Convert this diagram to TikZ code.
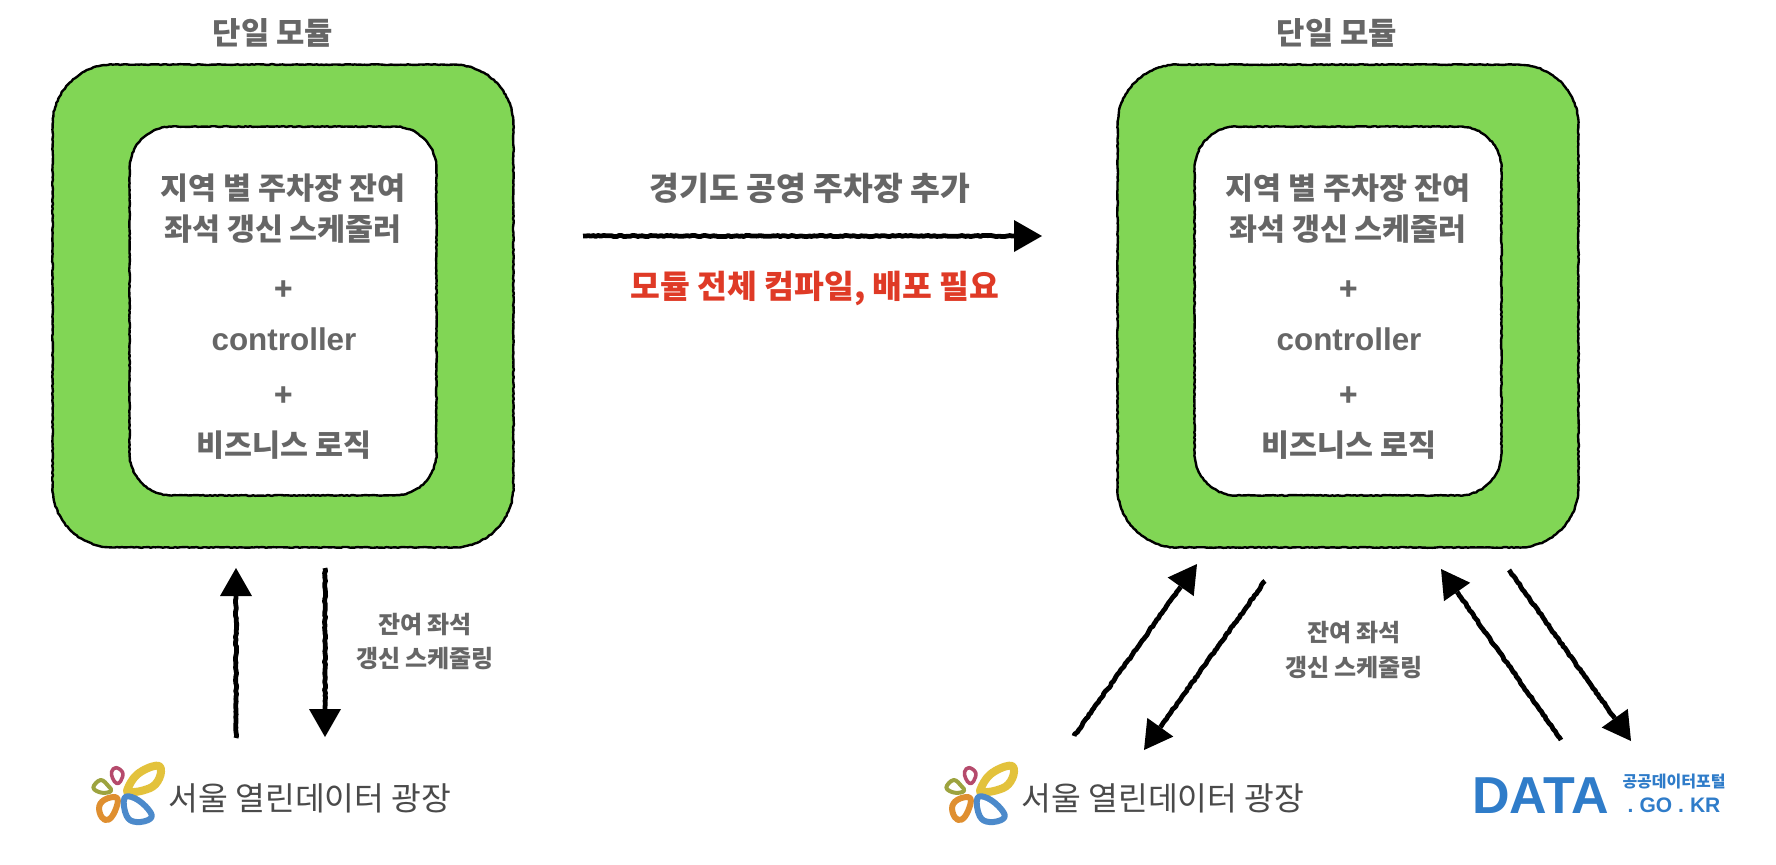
\documentclass[tikz,border=0pt]{standalone}
\usepackage{fontspec}
\setmainfont{Noto Sans CJK KR}
\newfontfamily\latinf{Liberation Sans}
\usetikzlibrary{arrows.meta,decorations.pathmorphing}
\definecolor{modgreen}{HTML}{81D655}
\definecolor{txtgrey}{HTML}{666666}
\definecolor{alertred}{HTML}{DF3A26}
\definecolor{logotxt}{HTML}{4A4A4A}
\definecolor{datablue}{HTML}{2F7CC9}
\definecolor{lyellow}{HTML}{E3C23C}
\definecolor{lpink}{HTML}{B54A6C}
\definecolor{lolive}{HTML}{9DA33F}
\definecolor{lorange}{HTML}{DF8F30}
\definecolor{lblue}{HTML}{4C8ACB}
\pgfmathsetseed{7}
\tikzset{
  roughedge/.style={draw=black,line width=1.2pt,line join=round,line cap=round},
  boxrough/.style={decoration={random steps,segment length=1.2pt,amplitude=.22pt}},
  roughline/.style={decorate,decoration={random steps,segment length=1.3pt,amplitude=.32pt,post length=15pt}},
  outerbox/.style={rectangle,fill=modgreen,rounded corners=30pt,
    minimum width=230pt,minimum height=241pt,inner sep=0pt},
  innerbox/.style={rectangle,fill=white,rounded corners=21pt,
    minimum width=153pt,minimum height=184pt,inner sep=0pt},
  head/.style={font=\fontsize{15.4}{17}\selectfont\bfseries,text=txtgrey,inner sep=0pt},
  body/.style={font=\fontsize{15.2}{17}\selectfont\bfseries,text=txtgrey,inner sep=0pt},
  midbody/.style={font=\fontsize{16.2}{18}\selectfont\bfseries,text=txtgrey,inner sep=0pt},
  latinbody/.style={font=\fontsize{15.7}{17}\selectfont\latinf\bfseries,text=txtgrey,inner sep=0pt},
  small/.style={font=\fontsize{12}{14}\selectfont\bfseries,text=txtgrey,inner sep=0pt},
  alert/.style={font=\fontsize{16.2}{18}\selectfont\bfseries,text=alertred,inner sep=0pt},
  logotext/.style={font=\fontsize{16.2}{18}\selectfont,text=logotxt,inner sep=0pt},
  bigarrow/.style={line width=2.4pt,draw=black,line join=round,roughline,
    -{Triangle[length=14pt,width=16pt,line width=0pt]}},
  petal/.style={fill=none,line join=round},
  pics/seoullogo/.style={code={
    \begin{scope}[x=.1667pt,y=-.1667pt]
      \draw[petal,lyellow,line width=4pt] plot[smooth cycle,tension=.7] coordinates {(142,146) (172,100) (228,74) (243,92) (226,130) (190,148) (152,153)};
      \draw[petal,lpink,line width=1.8pt] plot[smooth cycle,tension=.7] coordinates {(95,92) (108,80) (128,95) (122,120) (110,127) (98,112)};
      \draw[petal,lolive,line width=2pt] plot[smooth cycle,tension=.7] coordinates {(40,140) (62,117) (85,135) (93,150) (65,155)};
      \draw[petal,lorange,line width=3pt] plot[smooth cycle,tension=.7] coordinates {(58,195) (80,173) (112,172) (105,210) (85,236) (65,228)};
      \draw[petal,lblue,line width=3pt] plot[smooth cycle,tension=.7] coordinates {(133,172) (165,172) (205,205) (212,232) (170,243) (140,225)};
    \end{scope}
  }}
}
\newcommand{\edgeof}[2]{\draw[roughedge,boxrough] decorate {[rounded corners=#2] (#1.north west) rectangle (#1.south east)};}
\begin{document}
\begin{tikzpicture}[x=.5pt,y=-.5pt]
\useasboundingbox[fill=white] (0,0) rectangle (1776,864);

% left module
\node[outerbox] (outerL) at (283,306) {};
\edgeof{outerL}{30pt}
\node[innerbox] (innerL) at (283,311) {};
\edgeof{innerL}{21pt}
\node[head] (titleL) at (273,33) {단일 모듈};
\node[body] (l1L) at (283,188) {지역 별 주차장 잔여};
\node[body] (l2L) at (283,229) {좌석 갱신 스케줄러};
\node[body] (p1L) at (284,291) {+};
\node[latinbody] (cL) at (284,339) {controller};
\node[body] (p2L) at (284,397) {+};
\node[body] (l3L) at (284,445) {비즈니스 로직};

% right module
\node[outerbox] (outerR) at (1348,306) {};
\edgeof{outerR}{30pt}
\node[innerbox] (innerR) at (1348,311) {};
\edgeof{innerR}{21pt}
\node[head] (titleR) at (1337,33) {단일 모듈};
\node[body] (l1R) at (1348,188) {지역 별 주차장 잔여};
\node[body] (l2R) at (1348,229) {좌석 갱신 스케줄러};
\node[body] (p1R) at (1349,291) {+};
\node[latinbody] (cR) at (1349,339) {controller};
\node[body] (p2R) at (1349,397) {+};
\node[body] (l3R) at (1349,445) {비즈니스 로직};

% middle
\node[midbody] (midtop) at (810,188) {경기도 공영 주차장 추가};
\node[alert] (midred) at (815,288) {모듈 전체 컴파일, 배포 필요};
\coordinate (ms) at (583,236);
\coordinate (me) at (1042,236);
\draw[bigarrow] (ms) -- (me);

% small labels
\node[small] (s1L) at (425,625) {잔여 좌석};
\node[small] (s2L) at (425,659) {갱신 스케줄링};
\node[small] (s1R) at (1354,633) {잔여 좌석};
\node[small] (s2R) at (1354,668) {갱신 스케줄링};

% logos
\pic (logoL) at (80,741) {seoullogo};
\node[logotext] (seoulL) at (310,798) {서울 열린데이터 광장};
\pic (logoR) at (933,741) {seoullogo};
\node[logotext] (seoulR) at (1163,798) {서울 열린데이터 광장};

\node[font=\fontsize{26}{28}\selectfont\latinf\bfseries,text=datablue,inner sep=0pt,anchor=west] (dataw) at (1472,796) {DATA};
\node[font=\fontsize{8}{9}\selectfont\bfseries,text=datablue,inner sep=0pt] (datak) at (1674,781) {공공데이터포털};
\node[font=\fontsize{10.5}{12}\selectfont\latinf\bfseries,text=datablue,inner sep=0pt] (datad) at (1674,805) {.\hspace{3pt}GO\hspace{3pt}.\hspace{3pt}KR};

% arrows left
\coordinate (a1s) at (236,738); \coordinate (a1e) at (236,568);
\coordinate (a2s) at (325,568); \coordinate (a2e) at (325,737);
\draw[bigarrow] (a1s) -- (a1e);
\draw[bigarrow] (a2s) -- (a2e);

% arrows right
\coordinate (b1s) at (1074,736); \coordinate (b1e) at (1197,564);
\coordinate (b2s) at (1265,581); \coordinate (b2e) at (1144,750);
\coordinate (b3s) at (1561,740); \coordinate (b3e) at (1441,569);
\coordinate (b4s) at (1509,570); \coordinate (b4e) at (1631,741);
\draw[bigarrow] (b1s) -- (b1e);
\draw[bigarrow] (b2s) -- (b2e);
\draw[bigarrow] (b3s) -- (b3e);
\draw[bigarrow] (b4s) -- (b4e);
\end{tikzpicture}
\end{document}
